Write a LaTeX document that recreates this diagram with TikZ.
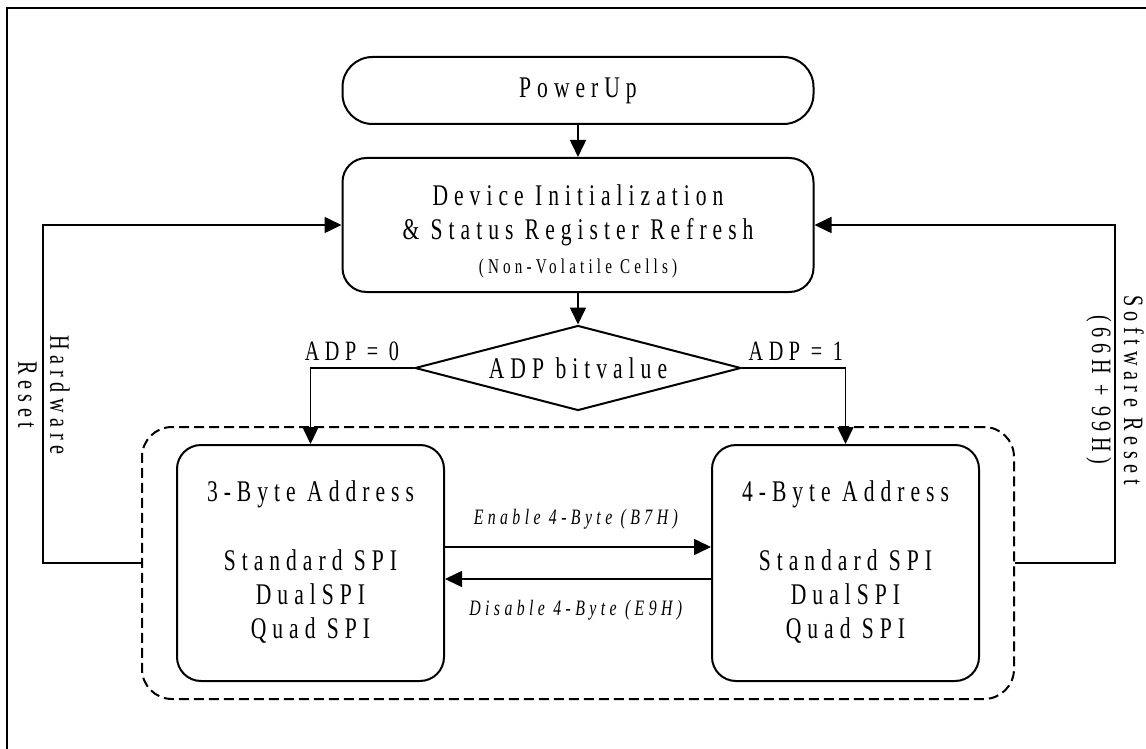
\documentclass[tikz,border=0pt]{standalone}
\usepackage{fontspec}
\setmainfont{Liberation Serif}[FakeStretch=0.72,LetterSpace=20]
\usepackage{tikz}
\usetikzlibrary{positioning,shapes.geometric,arrows.meta,fit}
\tikzset{
    state/.style={
           rectangle,
           rounded corners=12pt,
           draw=black, line width=1pt,
           inner sep=2pt,
           text centered,
           font=\fontsize{15}{17}\selectfont,
           },
    decision/.style={
           diamond,
           draw=black, line width=1pt,
           inner sep=0pt,
           aspect=3.8,
           font=\fontsize{15}{17}\selectfont,
           },
    link/.style={draw=black, line width=0.8pt},
    lbl/.style={font=\fontsize{14}{16}\selectfont},
    >={Triangle[length=8.5pt,width=8pt]},
}

\begin{document}
\begin{tikzpicture}[x=0.5pt, y=-0.5pt]
    \useasboundingbox (0,0) rectangle (1146,749);
    % frame (only top and left edge visible)
    \draw[line width=1pt] (7,749) -- (7,8) -- (1146,8);

    % State: power up
    \node[state, rounded corners=15pt,
    minimum width=235.5pt, minimum height=33.5pt,
    anchor=center] (powerup) at (578,90.5)
    {PowerUp};

    % State: init and refresh
    \node[state,
    minimum width=235.5pt, minimum height=67pt,
    below of=powerup,
    node distance=67.25pt,
    anchor=center] (devinit)
    {\begin{tabular}{@{}c@{}}
     \rule{0pt}{20pt}Device Initialization\\
     \& Status Register Refresh\\
     {\fontsize{10.5}{12}\selectfont (Non-Volatile Cells)}
     \end{tabular}};

    % decision on ADP bit
    \node[decision,
    minimum width=163pt, minimum height=42.5pt,
    below of=devinit,
    node distance=71.5pt] (adpbit)
    {ADP bitvalue};

    % address modes
    \node[state,
    minimum width=133.5pt, minimum height=118pt,
    anchor=center] (addr3) at (310.5,563)
    {\begin{tabular}{@{}c@{}}
     3-Byte Address\\[17.5pt] Standard SPI\\ DualSPI\\ Quad SPI
     \end{tabular}};

    \node[state,
    minimum width=133.5pt, minimum height=118pt,
    right of=addr3,
    node distance=267.5pt,
    anchor=center] (addr4)
    {\begin{tabular}{@{}c@{}}
     4-Byte Address\\[17.5pt] Standard SPI\\ DualSPI\\ Quad SPI
     \end{tabular}};

    % dashed group round both modes
    \node[draw=black, line width=1pt, dash pattern=on 5pt off 2.5pt,
    rounded corners=15pt,
    fit=(addr3)(addr4), inner xsep=17pt, inner ysep=8.5pt] (modes) {};

    % bends of the reset loops
    \coordinate (hwx) at (43,0);
    \coordinate (swx) at (1115,0);

    % draw the paths
    \path[link]
        (powerup) edge[->] (devinit)
        (devinit) edge[->] (adpbit)

        ([yshift=8pt]addr3.east) edge[->]
            node[above=5pt, font=\fontsize{11}{13}\selectfont] {\textit{Enable 4-Byte (B7H)}}
        ([yshift=8pt]addr4.west)

        ([yshift=-8pt]addr4.west) edge[->]
            node[below=7pt, font=\fontsize{11}{13}\selectfont] {\textit{Disable 4-Byte (E9H)}}
        ([yshift=-8pt]addr3.east);

    \draw[link, ->] (adpbit.west) -| node[lbl, pos=0.3, above] {ADP = 0} (addr3.north);
    \draw[link, ->] (adpbit.east) -| node[lbl, pos=0.26, above] {ADP = 1} (addr4.north);

    \draw[link, ->] (modes.west) -- (modes.west -| hwx) |- (devinit.west);
    \draw[link, ->] (modes.east) -- (modes.east -| swx) |- (devinit.east);

    \node[lbl, rotate=-90, align=center] (hwreset) at (44,395) {Hardware\\ Reset};
    \node[lbl, rotate=-90, align=center] (swreset) at (1115,390) {Software Reset\\ (66H + 99H)};
\end{tikzpicture}
\end{document}
